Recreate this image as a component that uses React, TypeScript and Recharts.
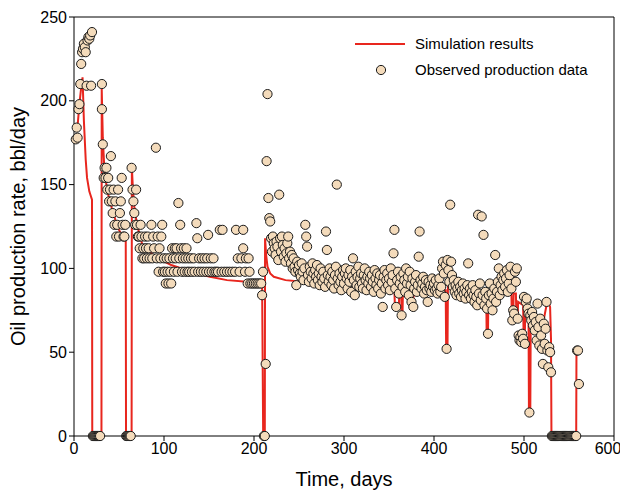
import { ComposedChart, Line, Scatter, XAxis, YAxis, ReferenceLine } from 'recharts';

// simulated rate, [day, bbl/day]
const simFirst: [number, number][] = [
  [4, 185], [6, 198], [8, 208], [9.5, 214], [11, 188], [13, 165], [14.5, 154], [17, 146], [20, 141], [20.3, 0],
];
const simSecond: [number, number][] = [
  [30.5, 0], [30.8, 207], [32, 178], [33.5, 162], [35, 153], [38, 144], [42, 136], [46, 129], [50, 123], [54, 119], [57.5, 116], [57.8, 0],
];
const simThird: [number, number][] = [
  [64, 0], [64.3, 160], [65.5, 147], [67, 137], [70, 126], [76, 114], [90, 107], [108, 102], [130, 98], [151, 95], [170, 93], [192, 92], [209, 91], [210.2, 0],
];
const simFourth: [number, number][] = [
  [212, 0], [212.3, 118], [213.5, 108], [215, 101], [218, 97], [222, 95], [235, 93], [254, 92], [262, 90], [300, 89], [323, 88], [356, 87],
  [356.5, 78], [361, 78], [361.5, 87], [363.5, 87], [364, 72], [365, 72], [365.5, 87], [374, 87], [374.5, 80], [377, 80], [377.5, 87],
  [413, 87], [413.5, 52], [415, 52], [415.5, 90], [430, 88], [445, 86], [458, 86], [458.5, 61], [460, 61], [460.5, 87], [470, 88],
  [486, 86], [486.5, 69], [488, 69], [488.5, 85], [491, 85], [491.5, 72], [493, 72], [493.5, 80], [499, 78], [499.5, 63], [501, 63],
  [501.5, 76], [505, 75], [505.5, 14], [507, 14], [507.5, 72], [512, 70], [515, 67], [516, 58], [518, 55], [520, 64], [525, 78],
  [527, 80], [529, 77], [530, 58], [530.5, 0],
];
const simLast: [number, number][] = [[558, 0], [558.3, 51], [560, 50]];

// observed rate, [day, bbl/day]
const obsStart: [number, number][] = [
  [2, 177], [3, 184], [4, 178], [5, 195], [6, 198], [7, 210], [8, 222], [9, 229], [10, 231], [11, 234], [12, 232], [13, 229],
  [14, 209], [15, 236], [16, 238], [17, 237], [18, 239], [19, 209], [20, 241],
  [21, 0], [22, 0], [23, 0], [24, 0], [25, 0], [26, 0], [27, 0], [28, 0], [29, 0],
];
const obsSecond: [number, number][] = [
  [31, 210], [31, 195], [32, 174], [33, 154], [34, 160], [35, 154], [36, 160], [37, 147], [38, 154], [39, 140], [40, 147], [41, 167],
  [42, 140], [43, 133], [44, 147], [45, 126], [46, 140], [47, 119], [48, 126], [49, 147], [50, 119], [51, 133], [52, 140], [53, 154],
  [54, 126], [55, 119], [56, 119], [57, 126], [58, 0], [59, 0], [60, 0], [61, 0], [62, 0], [63, 0],
];
const obsThird: [number, number][] = [
  [64, 160], [65, 147], [66, 140], [67, 133], [68, 126], [69, 147], [70, 126], [71, 119], [72, 119], [73, 112], [74, 126], [75, 119],
  [76, 106], [77, 112], [78, 106], [79, 119], [80, 112], [81, 106], [82, 119], [83, 112], [84, 106], [86, 126], [87, 106], [88, 119],
  [89, 112], [91, 172], [92, 106], [93, 119], [94, 98], [95, 112], [96, 106], [97, 119], [98, 126], [99, 98], [100, 106], [101, 98],
  [102, 91], [103, 106], [104, 98], [105, 91], [106, 106], [107, 98], [108, 91], [109, 112], [110, 106], [111, 98], [112, 112],
  [113, 106], [114, 112], [115, 98], [116, 139], [117, 106], [118, 126], [119, 112], [120, 98], [121, 106], [122, 112], [123, 98],
  [124, 106], [125, 112], [126, 98], [127, 106], [128, 98], [130, 106], [131, 98], [133, 106], [134, 98], [136, 127], [137, 118],
  [138, 98], [139, 106], [141, 98], [142, 106], [144, 98], [145, 106], [147, 98], [148, 106], [149, 120], [150, 98], [152, 106],
  [153, 98], [155, 106], [156, 98], [158, 98], [160, 98], [162, 123], [164, 98], [165, 123], [167, 98], [170, 98], [173, 98],
  [176, 98], [179, 98], [180, 123], [182, 106], [184, 98], [186, 106], [188, 123], [188, 112], [190, 98], [191, 106], [193, 91],
  [194, 106], [195, 98], [196, 91], [198, 91], [200, 91], [202, 91], [204, 91], [206, 91], [208, 91], [209, 84], [210, 98],
  [211, 0], [212, 0], [213, 43],
];
const obsFourth: [number, number][] = [
  [214, 164], [215, 204], [216, 142], [217, 130], [218, 128], [219, 118], [220, 110], [221, 119], [222, 115], [223, 112], [224, 108],
  [225, 116], [226, 113], [227, 105], [228, 144], [229, 118], [230, 110], [231, 119], [232, 114], [233, 107], [234, 112], [235, 104],
  [236, 109], [237, 115], [238, 119], [239, 106], [240, 110], [241, 103], [242, 108], [243, 100], [244, 106], [245, 101], [246, 98],
  [247, 90], [248, 104], [249, 99], [250, 102], [251, 97], [252, 95], [253, 103], [254, 98], [255, 93], [256, 100], [257, 126],
  [258, 119], [259, 113], [260, 96], [261, 92], [262, 101], [263, 98], [264, 94], [265, 103], [266, 97], [267, 91], [268, 99],
  [269, 95], [270, 102], [271, 93], [272, 97], [273, 90], [274, 100], [275, 95], [276, 92], [277, 98], [278, 94], [279, 89],
  [280, 122], [281, 111], [282, 96], [283, 92], [284, 100], [285, 95], [286, 90], [287, 98], [288, 93], [289, 88], [290, 96],
  [291, 101], [292, 150], [293, 94], [294, 90], [295, 97], [296, 92], [297, 87], [298, 95], [299, 99],
];
const obsFifth: [number, number][] = [
  [300, 91], [301, 97], [302, 100], [303, 94], [304, 88], [305, 96], [306, 92], [307, 99], [308, 86], [309, 95], [310, 106],
  [311, 93], [312, 84], [313, 98], [314, 90], [315, 95], [316, 101], [317, 89], [318, 94], [319, 97], [320, 91], [321, 88],
  [322, 96], [323, 100], [324, 93], [325, 87], [326, 95], [327, 91], [328, 98], [329, 94], [330, 89], [331, 96], [332, 92],
  [333, 86], [334, 99], [335, 94], [336, 90], [337, 97], [338, 88], [339, 93], [340, 96], [341, 85], [342, 91], [343, 77],
  [344, 95], [345, 99], [346, 88], [347, 93], [348, 97], [349, 90], [350, 94], [351, 87], [352, 100], [353, 92], [354, 96],
  [355, 109], [356, 123], [357, 88], [358, 77], [359, 93], [360, 98], [361, 85], [362, 91], [363, 95], [364, 72], [365, 89],
  [366, 97], [367, 93], [368, 86], [369, 100], [370, 91], [371, 95], [372, 84], [373, 98], [374, 90], [375, 80], [376, 94],
  [377, 77], [378, 88], [379, 92], [380, 96], [381, 86], [382, 90], [383, 107], [384, 122], [385, 93], [386, 88], [387, 91],
  [388, 95], [389, 85], [390, 89], [391, 93], [392, 87], [393, 80], [394, 92], [395, 88], [396, 90], [397, 86], [398, 94], [399, 89],
];
const obsSixth: [number, number][] = [
  [400, 91], [401, 87], [402, 93], [403, 88], [404, 85], [405, 90], [406, 94], [407, 86], [408, 89], [409, 100], [410, 104],
  [411, 97], [412, 83], [413, 102], [414, 52], [415, 105], [416, 99], [417, 92], [418, 138], [419, 104], [420, 96], [421, 89],
  [422, 93], [423, 86], [424, 90], [425, 84], [426, 88], [427, 92], [428, 85], [429, 89], [430, 83], [431, 87], [432, 91],
  [433, 85], [434, 88], [435, 82], [436, 86], [437, 90], [438, 103], [439, 84], [440, 88], [441, 82], [442, 86], [443, 90],
  [444, 84], [445, 80], [446, 87], [447, 83], [448, 78], [449, 132],
];
const obsLate: [number, number][] = [
  [450, 85], [451, 91], [452, 81], [453, 131], [454, 84], [455, 120], [456, 78], [457, 86], [458, 82], [459, 76], [460, 61],
  [461, 84], [462, 91], [463, 79], [464, 85], [465, 75], [466, 82], [467, 88], [468, 108], [469, 80], [470, 86], [471, 92],
  [472, 100], [473, 84], [474, 90], [475, 95], [476, 87], [477, 93], [478, 97], [479, 89], [480, 94], [481, 99], [482, 86],
  [483, 91], [484, 96], [485, 101], [486, 88], [487, 69], [488, 75], [489, 73], [490, 98], [491, 92], [492, 100], [493, 70],
  [494, 60], [495, 57], [496, 59], [497, 56], [498, 61], [499, 58], [500, 83], [501, 55], [502, 80], [503, 82], [504, 76],
  [505, 73], [506, 14], [507, 72], [508, 69], [509, 74], [510, 66], [511, 71], [512, 63], [513, 68], [514, 57], [515, 79],
  [516, 65], [517, 54], [518, 70], [519, 60], [520, 52], [521, 43], [522, 67], [523, 55], [524, 64], [525, 80], [526, 51],
  [527, 41], [528, 53], [529, 50], [530, 38],
];
const obsShutIn: number[] = [531, 532, 533, 534, 535, 536, 537, 538, 539, 540, 541, 542, 543, 544, 545, 546, 547, 548, 549, 550, 551, 552, 553, 554, 555, 556, 557, 558];
const obsEnd: [number, number][] = [[559, 51], [560, 51], [561, 31]];

const xTicks = [0, 100, 200, 300, 400, 500, 600];
const yTicks = [0, 50, 100, 150, 200, 250];

const toPts = (arr: [number, number][]) => arr.map(([x, y]) => ({ x, y }));

const simData = toPts([...simFirst, ...simSecond, ...simThird, ...simFourth, ...simLast]);
const obsData = toPts([
  ...obsStart, ...obsSecond, ...obsThird, ...obsFourth, ...obsFifth, ...obsSixth, ...obsLate,
  ...obsShutIn.map((d) => [d, 0] as [number, number]), ...obsEnd,
]);

const RED = '#e8261e';
const FILL = '#f4dbbb';
const FONT = '"Liberation Sans", Arial, sans-serif';

const Dot = (props: any) => (
  <circle cx={props.cx} cy={props.cy} r={4.6} fill={FILL} stroke="#1a1a1a" strokeWidth={1} />
);

export default function App() {
  return (
    <div style={{ position: 'relative', width: 612, height: 484, fontFamily: FONT }}>
      <ComposedChart width={612} height={484} margin={{ top: 9, right: 6, bottom: 0, left: 10 }}>
        <XAxis
          type="number"
          dataKey="x"
          domain={[0, 600]}
          ticks={xTicks}
          height={56}
          tick={{ fontSize: 16, fill: '#000' }}
          tickSize={5}
          stroke="#000"
          label={{ value: 'Time, days', position: 'insideBottom', offset: 6, fontSize: 20, fill: '#000' }}
        />
        <YAxis
          type="number"
          dataKey="y"
          domain={[0, 250]}
          ticks={yTicks}
          width={56}
          tick={{ fontSize: 16, fill: '#000' }}
          tickSize={5}
          stroke="#000"
          label={{ value: 'Oil production rate, bbl/day', angle: -90, position: 'insideLeft', offset: 0, fontSize: 20, fill: '#000', style: { textAnchor: 'middle' } }}
        />
        <ReferenceLine y={250} stroke="#000" />
        <ReferenceLine x={600} stroke="#000" />
        <Line data={simData} dataKey="y" type="linear" stroke={RED} strokeWidth={2} dot={false} isAnimationActive={false} />
        <Scatter data={obsData} dataKey="y" shape={Dot} isAnimationActive={false} />
      </ComposedChart>
      <svg width={270} height={50} style={{ position: 'absolute', left: 347, top: 28 }}>
        <line x1={0} y1={8} x2={50} y2={8} stroke={RED} strokeWidth={2} />
        <text x={60} y={13} fontSize={15} fill="#000" fontFamily={FONT}>Simulation results</text>
        <circle cx={26} cy={34} r={4.6} fill={FILL} stroke="#1a1a1a" />
        <text x={60} y={39} fontSize={15} fill="#000" fontFamily={FONT}>Observed production data</text>
      </svg>
    </div>
  );
}
